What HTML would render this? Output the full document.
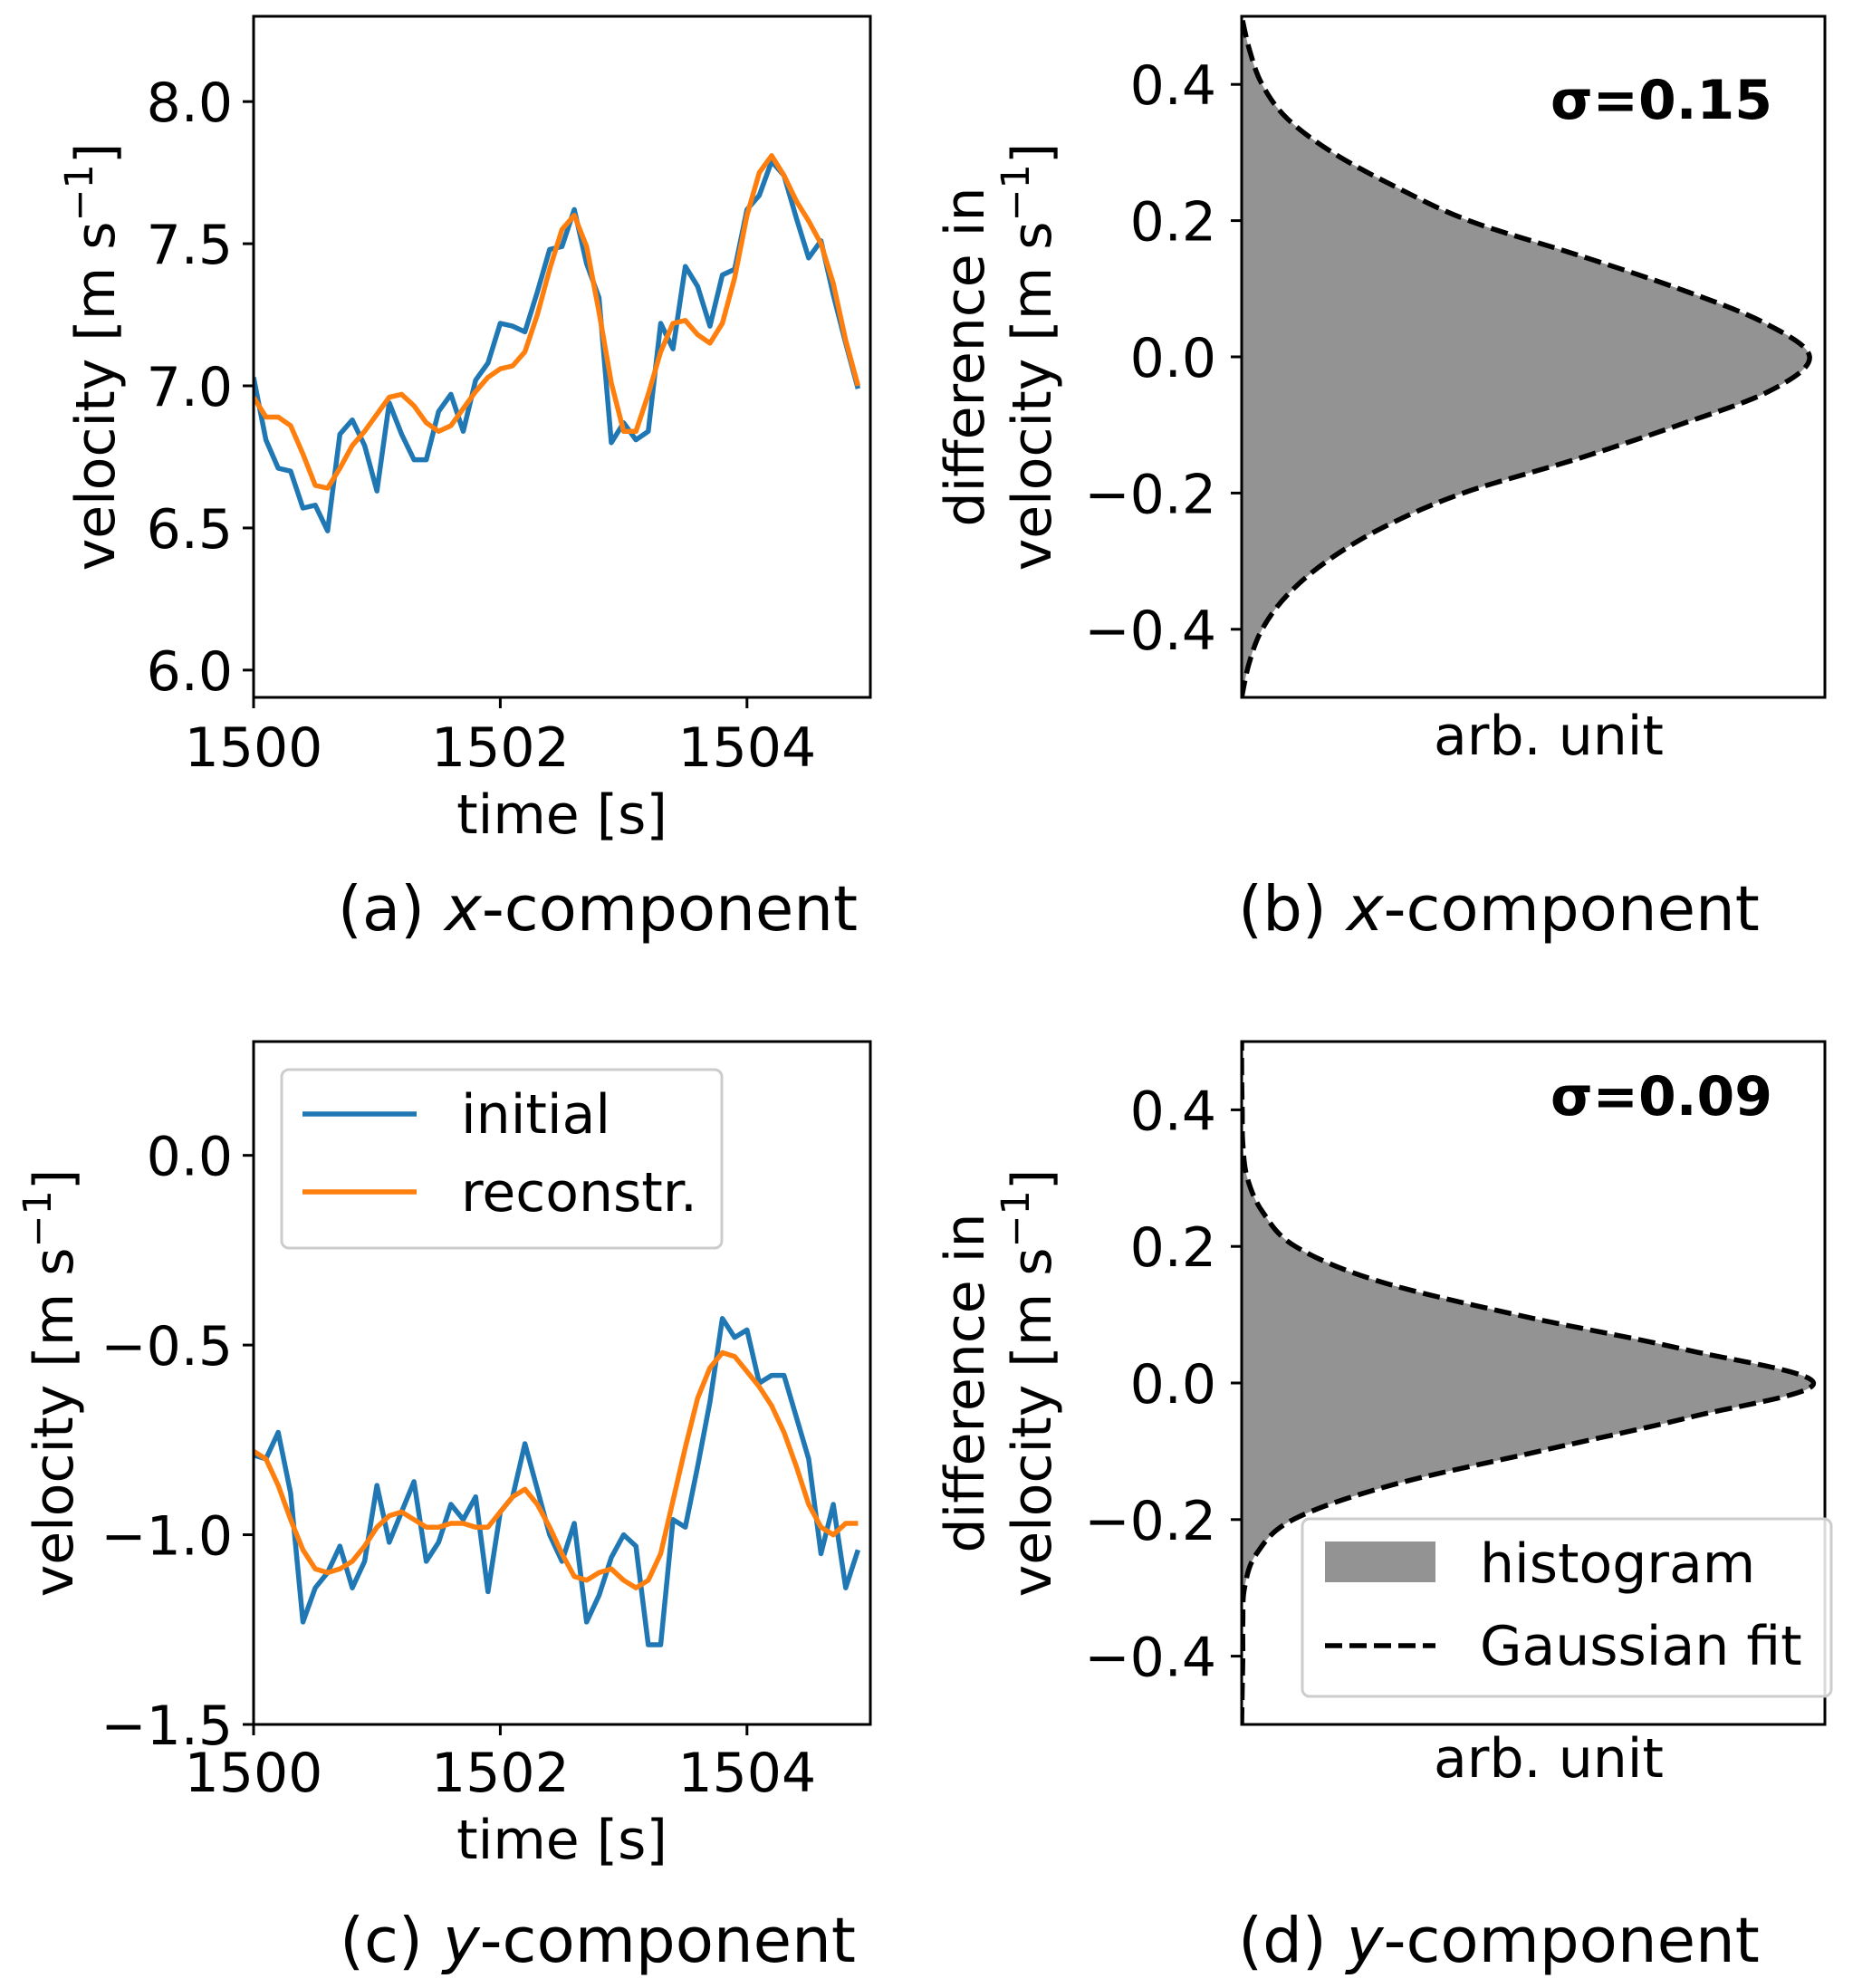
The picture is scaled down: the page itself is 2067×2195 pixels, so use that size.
<!DOCTYPE html>
<html><head><meta charset="utf-8">
<style>
html,body{margin:0;padding:0;background:#fff;}
svg{display:block;}
text{font-family:"DejaVu Sans","Liberation Sans",sans-serif;fill:#000;}
</style></head>
<body>
<svg id="fig" width="2067" height="2195" viewBox="0 0 2067 2195" xmlns="http://www.w3.org/2000/svg"></svg>
<script>
// ---------- data ----------
const timeStart = 1500;
const timeStep = 0.1;
const xInitial = [7.03,6.81,6.71,6.70,6.57,6.58,6.49,6.83,6.88,6.79,6.63,6.94,6.83,6.74,6.74,6.91,6.97,6.84,7.02,7.08,7.22,7.21,7.19,7.33,7.48,7.49,7.62,7.43,7.31,6.80,6.87,6.81,6.84,7.22,7.13,7.42,7.35,7.21,7.39,7.41,7.62,7.67,7.79,7.74,7.59,7.45,7.51,7.32,7.15,6.99];
const xRecon = [6.96,6.89,6.89,6.86,6.76,6.65,6.64,6.71,6.79,6.84,6.90,6.96,6.97,6.93,6.87,6.84,6.86,6.92,6.98,7.03,7.06,7.07,7.12,7.25,7.41,7.55,7.60,7.49,7.26,7.01,6.84,6.84,6.97,7.12,7.22,7.23,7.18,7.15,7.22,7.38,7.60,7.75,7.81,7.74,7.65,7.58,7.50,7.36,7.16,7.00];
const yInitial = [-0.79,-0.80,-0.73,-0.89,-1.23,-1.14,-1.10,-1.03,-1.14,-1.07,-0.87,-1.02,-0.94,-0.86,-1.07,-1.02,-0.92,-0.96,-0.90,-1.15,-0.94,-0.90,-0.76,-0.88,-1.00,-1.07,-0.97,-1.23,-1.16,-1.06,-1.00,-1.03,-1.29,-1.29,-0.96,-0.98,-0.82,-0.65,-0.43,-0.48,-0.46,-0.60,-0.58,-0.58,-0.69,-0.80,-1.05,-0.92,-1.14,-1.04];
const yRecon = [-0.78,-0.80,-0.87,-0.96,-1.04,-1.09,-1.10,-1.09,-1.07,-1.03,-0.98,-0.95,-0.94,-0.96,-0.98,-0.98,-0.97,-0.97,-0.98,-0.98,-0.94,-0.90,-0.88,-0.92,-0.98,-1.05,-1.11,-1.12,-1.10,-1.09,-1.12,-1.14,-1.12,-1.05,-0.91,-0.77,-0.64,-0.56,-0.52,-0.53,-0.57,-0.61,-0.66,-0.73,-0.82,-0.92,-0.98,-1.00,-0.97,-0.97];
const xTicksA = [1500,1502,1504];
const yTicksA = [6.0,6.5,7.0,7.5,8.0];
const yTicksC = [-1.5,-1.0,-0.5,0.0];
const histBins = [-0.5,-0.45,-0.4,-0.35,-0.3,-0.25,-0.2,-0.15,-0.1,-0.05,0,0.05,0.1,0.15,0.2,0.25,0.3,0.35,0.4,0.45,0.5];
const histB = [0,0.013,0.036,0.08,0.15,0.25,0.39,0.59,0.77,0.93,1.0,0.92,0.77,0.59,0.40,0.27,0.16,0.08,0.036,0.014,0];
const fitB  = [0,0.013,0.036,0.08,0.15,0.25,0.39,0.59,0.77,0.93,1.0,0.92,0.77,0.59,0.40,0.27,0.16,0.08,0.036,0.014,0];
const histD = [0,0.001,0.002,0.002,0.005,0.026,0.09,0.26,0.52,0.785,1.0,0.77,0.48,0.236,0.094,0.037,0.01,0.002,0.001,0,0];
const fitD  = [0,0.001,0.002,0.002,0.005,0.026,0.09,0.26,0.52,0.785,1.0,0.77,0.48,0.236,0.094,0.037,0.01,0.002,0.001,0,0];
const yTicksHist = [-0.4,-0.2,0.0,0.2,0.4];
const sigmaLabels = ["σ=0.15","σ=0.09"];

// ---------- helpers ----------
const NS = "http://www.w3.org/2000/svg";
const svg = document.getElementById('fig');
const FS = 60, CAPFS = 69, LW = 5.5;
function mk(tag, attrs, parent){
  const e = document.createElementNS(NS, tag);
  for (const k in attrs) e.setAttribute(k, attrs[k]);
  (parent||svg).appendChild(e);
  return e;
}
function fmt(v){ const s=v.toFixed(1); return v<0 ? '\u2212'+s.slice(1) : (s==='-0.0'?'0.0':s); }
function smoothPath(pts){
  let d = 'M'+pts[0][0]+','+pts[0][1];
  for (let i=0;i<pts.length-1;i++){
    const p0=pts[Math.max(0,i-1)],p1=pts[i],p2=pts[i+1],p3=pts[Math.min(pts.length-1,i+2)];
    const c1=[p1[0]+(p2[0]-p0[0])/6,p1[1]+(p2[1]-p0[1])/6];
    const c2=[p2[0]-(p3[0]-p1[0])/6,p2[1]-(p3[1]-p1[1])/6];
    d+=' C'+c1[0].toFixed(1)+','+c1[1].toFixed(1)+' '+c2[0].toFixed(1)+','+c2[1].toFixed(1)+' '+p2[0].toFixed(1)+','+p2[1].toFixed(1);
  }
  return d;
}
const SUP = 'velocity [m s<tspan font-size="43" dy="-24">\u22121</tspan><tspan dy="24">]</tspan>';

// ---------- time series panels ----------
function timePanel(o){
  const L=280,R=961,T=o.top,B=o.bottom;
  const g = mk('g',{});
  
  
  const sx = t => L + (t-1500)/(5)*(R-L);
  const sy = v => B - (v-o.ymin)/(o.ymax-o.ymin)*(B-T);
  const clipId = 'clip'+o.name;
  const cp = mk('clipPath',{id:clipId},g); mk('rect',{x:L,y:T,width:R-L,height:B-T},cp);
  const series = [[o.blue,'#1f77b4','initial-line'],[o.orange,'#ff7f0e','reconstructed-line']];
  series.forEach(s=>{
    const pts = s[0].map((v,i)=> sx(timeStart+i*timeStep).toFixed(1)+','+sy(v).toFixed(1)).join(' ');
    const pl = mk('polyline',{points:pts,fill:'none',stroke:s[1],'stroke-width':LW,'stroke-linejoin':'round','clip-path':'url(#'+clipId+')'},g);
    
    
  });
  const fr = mk('rect',{x:L,y:T,width:R-L,height:B-T,fill:'none',stroke:'#000','stroke-width':3},g);
  
  
  o.yticks.forEach(v=>{
    const y=sy(v);
    mk('line',{x1:L-12,x2:L,y1:y,y2:y,stroke:'#000','stroke-width':3},g);
    const t=mk('text',{x:257,y:y+22,'font-size':FS,'text-anchor':'end'},g);
    t.textContent=fmt(v);
    
    
  });
  xTicksA.forEach(v=>{
    const x=sx(v);
    mk('line',{x1:x,x2:x,y1:B,y2:B+12,stroke:'#000','stroke-width':3},g);
    const t=mk('text',{x:x,y:o.xtickBase,'font-size':FS,'text-anchor':'middle'},g);
    t.textContent=v;
    
    
  });
  const xl=mk('text',{x:(L+R)/2,y:o.xlabBase,'font-size':FS,'text-anchor':'middle'},g);
  xl.textContent='time [s]';
  
  
  const cy=(T+B)/2;
  const yl=mk('text',{x:0,y:0,'font-size':FS,'text-anchor':'middle',transform:'translate('+o.ylabX+','+cy+') rotate(-90)'},g);
  
  
  yl.innerHTML=SUP;
  const cap=mk('text',{x:660,y:o.capBase,'font-size':CAPFS,'text-anchor':'middle'},g);
  
  
  cap.innerHTML=o.cap+' <tspan font-style="italic">'+o.comp+'</tspan>-component';
  return {g,sx,sy};
}

timePanel({name:'panel-a',top:18,bottom:770,ymin:5.904,ymax:8.30,blue:xInitial,orange:xRecon,yticks:yTicksA,xtickBase:846,xlabBase:920,capBase:1027,cap:'(a)',comp:'x',ylabX:126});
const pc = timePanel({name:'panel-c',top:1150,bottom:1904,ymin:-1.5,ymax:0.3,blue:yInitial,orange:yRecon,yticks:yTicksC,xtickBase:1978,xlabBase:2052,capBase:2166,cap:'(c)',comp:'y',ylabX:80});

// legend (c)
const lg = mk('g',{},pc.g);


mk('rect',{x:311,y:1181,width:486,height:197,rx:8,fill:'#fff','fill-opacity':0.85,stroke:'#cccccc','stroke-width':3},lg);
[['initial','#1f77b4',1230],['reconstr.','#ff7f0e',1316]].forEach(e=>{
  const eg=mk('g',{},lg);
  
  
  mk('line',{x1:334,x2:460,y1:e[2],y2:e[2],stroke:e[1],'stroke-width':LW},eg);
  const t=mk('text',{x:509,y:e[2]+21,'font-size':FS},eg);
  t.textContent=e[0];
});

// ---------- histogram panels ----------
function histPanel(o){
  const L=1371,R=2015,T=o.top,B=o.bottom;
  const g=mk('g',{});
  
  
  const sy=v=> B-(v+0.5)/1.0*(B-T);
  const sx=a=> L + a/o.xmax*(R-L);
  const clipId='clip'+o.name;
  const cp=mk('clipPath',{id:clipId},g); mk('rect',{x:L,y:T,width:R-L,height:B-T},cp);
  const hp = histBins.map((b,i)=>[sx(o.hist[i]),sy(b)]);
  const hd = smoothPath(hp)+' L'+L+','+sy(0.5)+' L'+L+','+sy(-0.5)+' Z';
  const h=mk('path',{d:hd,fill:'#939393',stroke:'none','clip-path':'url(#'+clipId+')'},g);
  
  
  const fp = histBins.map((b,i)=>[sx(o.fit[i]),sy(b)]);
  const f=mk('path',{d:smoothPath(fp),fill:'none',stroke:'#000','stroke-width':LW,'stroke-dasharray':'19,8','clip-path':'url(#'+clipId+')'},g);
  
  
  const fr=mk('rect',{x:L,y:T,width:R-L,height:B-T,fill:'none',stroke:'#000','stroke-width':3},g);
  
  
  yTicksHist.forEach(v=>{
    const y=sy(v);
    mk('line',{x1:L-12,x2:L,y1:y,y2:y,stroke:'#000','stroke-width':3},g);
    const t=mk('text',{x:1343,y:y+22,'font-size':FS,'text-anchor':'end'},g);
    t.textContent=fmt(v);
    
    
  });
  const s=mk('text',{x:1957,y:o.sigBase,'font-size':FS,'font-weight':'bold','text-anchor':'end'},g);
  s.textContent=o.sigma;
  
  
  const xl=mk('text',{x:1710,y:o.arbBase,'font-size':FS,'text-anchor':'middle'},g);
  xl.textContent='arb. unit';
  
  
  const cy=(T+B)/2;
  const yl1=mk('text',{x:0,y:0,'font-size':FS,'text-anchor':'middle',transform:'translate(1086,'+cy+') rotate(-90)'},g);
  yl1.textContent='difference in';
  
  
  const yl2=mk('text',{x:0,y:0,'font-size':FS,'text-anchor':'middle',transform:'translate(1160,'+cy+') rotate(-90)'},g);
  yl2.innerHTML=SUP;
  
  
  const cap=mk('text',{x:1655,y:o.capBase,'font-size':CAPFS,'text-anchor':'middle'},g);
  cap.innerHTML=o.cap+' <tspan font-style="italic">'+o.comp+'</tspan>-component';
  
  
  return g;
}
histPanel({name:'panel-b',top:18,bottom:770,xmax:1.027,hist:histB,fit:fitB,sigma:sigmaLabels[0],sigBase:131,arbBase:833,capBase:1027,cap:'(b)',comp:'x'});
const gd = histPanel({name:'panel-d',top:1150,bottom:1904,xmax:1.02,hist:histD,fit:fitD,sigma:sigmaLabels[1],sigBase:1231,arbBase:1962,capBase:2166,cap:'(d)',comp:'y'});

// legend (d)
const ld=mk('g',{},gd);


mk('rect',{x:1438,y:1677,width:584,height:196,rx:8,fill:'#fff','fill-opacity':0.85,stroke:'#cccccc','stroke-width':3},ld);
const le1=mk('g',{},ld);


mk('rect',{x:1463,y:1702,width:122,height:45,fill:'#939393'},le1);
const lt1=mk('text',{x:1634,y:1747,'font-size':FS},le1); lt1.textContent='histogram';
const le2=mk('g',{},ld);


mk('line',{x1:1463,x2:1585,y1:1817,y2:1817,stroke:'#000','stroke-width':LW,'stroke-dasharray':'19,8'},le2);
const lt2=mk('text',{x:1634,y:1838,'font-size':FS},le2); lt2.textContent='Gaussian fit';
</script>
</body></html>
